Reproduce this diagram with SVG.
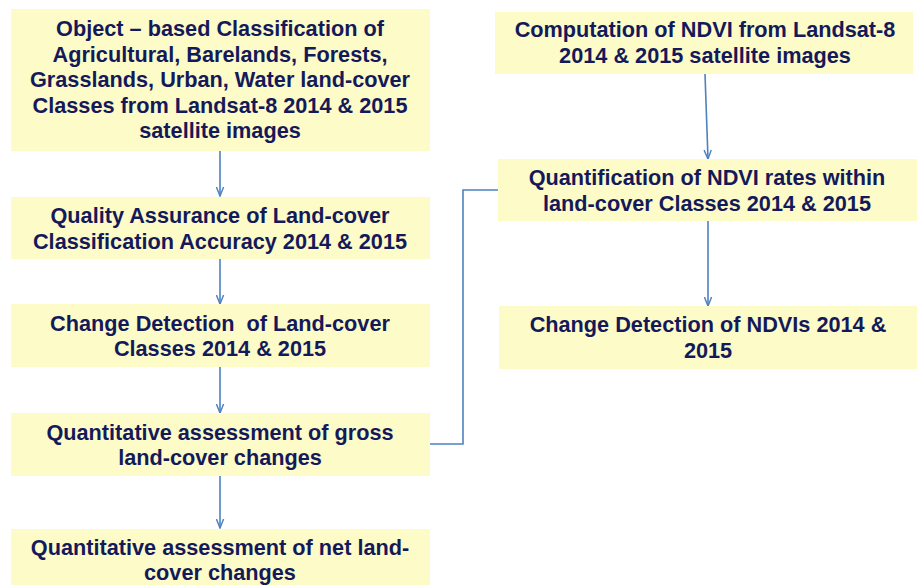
<svg xmlns="http://www.w3.org/2000/svg" width="917" height="585" viewBox="0 0 917 585">
  <defs>
    <style>
      .box { fill: #fdfbc8; }
      .lbl { font-family: "Liberation Sans", Arial, sans-serif; font-weight: bold; font-size: 21.7px; fill: #14195a; text-anchor: middle; }
      .conn { stroke: #4f81bd; stroke-width: 1.6; fill: none; }
    </style>
    <marker id="arrow" viewBox="0 0 12 10" refX="11" refY="5" markerWidth="11" markerHeight="9" markerUnits="userSpaceOnUse" orient="auto">
      <path d="M1,1 L11,5 L1,9" fill="none" stroke="#4f81bd" stroke-width="1.6"/>
    </marker>
  </defs>
  <rect width="917" height="585" fill="#ffffff"/>

  <g id="connectors">
    <line class="conn" x1="220" y1="151" x2="220" y2="196" marker-end="url(#arrow)"/>
    <line class="conn" x1="220" y1="259" x2="220" y2="304" marker-end="url(#arrow)"/>
    <line class="conn" x1="220" y1="367" x2="220" y2="413" marker-end="url(#arrow)"/>
    <line class="conn" x1="220" y1="476" x2="220" y2="528" marker-end="url(#arrow)"/>
    <line class="conn" x1="705" y1="74" x2="708" y2="159" marker-end="url(#arrow)"/>
    <line class="conn" x1="708" y1="221" x2="708" y2="306" marker-end="url(#arrow)"/>
    <polyline class="conn" points="430,444 463,444 463,190 498,190"/>
  </g>

  <g id="node-classification">
    <rect class="box" x="11" y="9" width="419" height="142"/>
    <text class="lbl" x="220" y="36">Object – based Classification of</text>
    <text class="lbl" x="220" y="62">Agricultural, Barelands, Forests,</text>
    <text class="lbl" x="220" y="87">Grasslands, Urban, Water land-cover</text>
    <text class="lbl" x="220" y="113">Classes from Landsat-8 2014 &amp; 2015</text>
    <text class="lbl" x="220" y="138">satellite images</text>
  </g>

  <g id="node-quality">
    <rect class="box" x="11" y="197" width="419" height="62"/>
    <text class="lbl" x="220" y="223">Quality Assurance of Land-cover</text>
    <text class="lbl" x="220" y="249">Classification Accuracy 2014 &amp; 2015</text>
  </g>

  <g id="node-change-landcover">
    <rect class="box" x="11" y="304" width="419" height="63"/>
    <text class="lbl" x="220" y="331" xml:space="preserve">Change Detection  of Land-cover</text>
    <text class="lbl" x="220" y="356">Classes 2014 &amp; 2015</text>
  </g>

  <g id="node-gross">
    <rect class="box" x="11" y="413" width="419" height="63"/>
    <text class="lbl" x="220" y="440">Quantitative assessment of gross</text>
    <text class="lbl" x="220" y="465">land-cover changes</text>
  </g>

  <g id="node-net">
    <rect class="box" x="11" y="529" width="419" height="60"/>
    <text class="lbl" x="220" y="555">Quantitative assessment of net land-</text>
    <text class="lbl" x="220" y="580">cover changes</text>
  </g>

  <g id="node-ndvi-compute">
    <rect class="box" x="495" y="12" width="418" height="62"/>
    <text class="lbl" x="705" y="37">Computation of NDVI from Landsat-8</text>
    <text class="lbl" x="705" y="63">2014 &amp; 2015 satellite images</text>
  </g>

  <g id="node-ndvi-quant">
    <rect class="box" x="498" y="159" width="419" height="62"/>
    <text class="lbl" x="707" y="185">Quantification of NDVI rates within</text>
    <text class="lbl" x="707" y="211">land-cover Classes 2014 &amp; 2015</text>
  </g>

  <g id="node-ndvi-change">
    <rect class="box" x="499" y="306" width="418" height="63"/>
    <text class="lbl" x="708" y="332">Change Detection of NDVIs 2014 &amp;</text>
    <text class="lbl" x="708" y="358">2015</text>
  </g>
</svg>
